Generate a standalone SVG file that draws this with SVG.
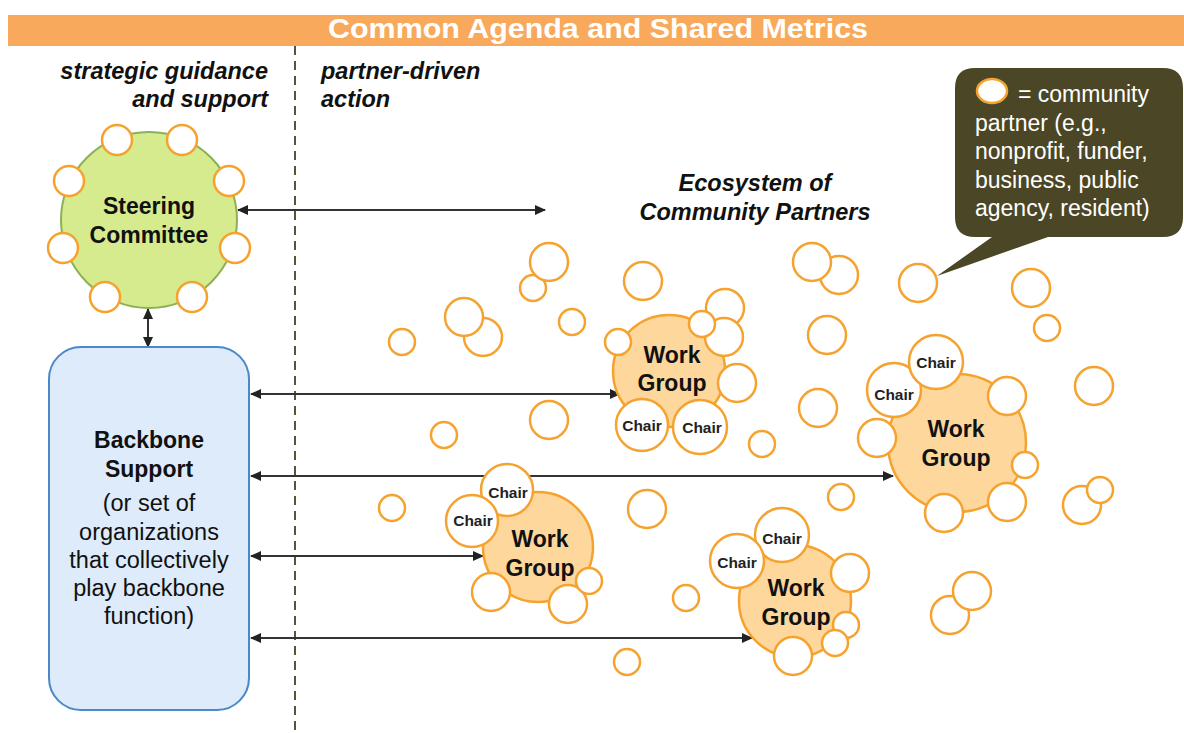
<svg xmlns="http://www.w3.org/2000/svg" width="1184" height="733" viewBox="0 0 1184 733">
<defs>
<marker id="ah" markerUnits="userSpaceOnUse" markerWidth="11" markerHeight="10" refX="10" refY="5" orient="auto-start-reverse">
<path d="M0,0 L11,5 L0,10 z" fill="#222"/>
</marker>
<style>
.p{fill:#fff;stroke:#F5A22F;stroke-width:2.5}
.wg{fill:#FDD79B;stroke:#F5A22F;stroke-width:2.5}
.t{font-family:"Liberation Sans",Arial,sans-serif;fill:#111}
.b{font-weight:bold}
.i{font-style:italic;font-weight:bold}
.ch{font-family:"Liberation Sans",Arial,sans-serif;font-weight:bold;font-size:15.5px;fill:#222;text-anchor:middle}
.wt{font-family:"Liberation Sans",Arial,sans-serif;font-weight:bold;font-size:23px;fill:#111;text-anchor:middle}
.c{stroke:#333;stroke-width:2;fill:none;marker-start:url(#ah);marker-end:url(#ah)}
.lg{font-family:"Liberation Sans",Arial,sans-serif;font-size:23px;fill:#fff}
</style>
</defs>
<rect width="1184" height="733" fill="#fff"/>

<g id="header">
<rect x="8" y="15" width="1176" height="31" fill="#F8A95B"/>
<text x="598" y="38" class="t b" font-size="28" style="fill:#fff" text-anchor="middle" textLength="540" lengthAdjust="spacingAndGlyphs">Common Agenda and Shared Metrics</text>
</g>

<g id="divider">
<line x1="295" y1="46" x2="295" y2="733" stroke="#55553A" stroke-width="2" stroke-dasharray="9 6"/>
</g>

<g id="column-labels">
<text x="268" y="79" class="t i" font-size="23.5" text-anchor="end">strategic guidance</text>
<text x="268" y="107" class="t i" font-size="23.5" text-anchor="end">and support</text>
<text x="321" y="79" class="t i" font-size="23.5">partner-driven</text>
<text x="321" y="107" class="t i" font-size="23.5">action</text>
<text x="755" y="191" class="t i" font-size="23.5" text-anchor="middle">Ecosystem of</text>
<text x="755" y="220" class="t i" font-size="23.5" text-anchor="middle">Community Partners</text>
</g>

<g id="connectors">
<line class="c" x1="238" y1="210" x2="545" y2="210"/>
<line class="c" x1="148" y1="309" x2="148" y2="347"/>
<line class="c" x1="251" y1="394" x2="620" y2="394"/>
<line class="c" x1="251" y1="476" x2="893" y2="476"/>
<line class="c" x1="251" y1="556" x2="483" y2="556"/>
<line class="c" x1="251" y1="638" x2="752" y2="638"/>
</g>

<g id="steering-committee">
<circle cx="149" cy="220" r="88" fill="#D6EB8E" stroke="#8DAF55" stroke-width="2"/>
<circle class="p" cx="117" cy="140" r="15"/>
<circle class="p" cx="182" cy="140" r="15"/>
<circle class="p" cx="69" cy="181" r="15"/>
<circle class="p" cx="229" cy="181" r="15"/>
<circle class="p" cx="63" cy="248" r="15"/>
<circle class="p" cx="235" cy="248" r="15"/>
<circle class="p" cx="105" cy="297" r="15"/>
<circle class="p" cx="192" cy="297" r="15"/>
<text x="149" y="214" class="wt">Steering</text>
<text x="149" y="243" class="wt">Committee</text>
</g>

<g id="backbone-support">
<rect x="49" y="347" width="200" height="363" rx="32" fill="#DDEBFB" stroke="#4A88C8" stroke-width="2"/>
<text x="149" y="448" class="wt">Backbone</text>
<text x="149" y="477" class="wt">Support</text>
<g class="t" font-size="23.5" text-anchor="middle">
<text x="149" y="511">(or set of</text>
<text x="149" y="540">organizations</text>
<text x="149" y="568">that collectively</text>
<text x="149" y="596">play backbone</text>
<text x="149" y="624">function)</text>
</g>
</g>

<g id="community-partners">
<circle class="p" cx="533" cy="288" r="13"/>
<circle class="p" cx="549" cy="262" r="19"/>
<circle class="p" cx="483" cy="337" r="19"/>
<circle class="p" cx="464" cy="317" r="19"/>
<circle class="p" cx="402" cy="342" r="13"/>
<circle class="p" cx="572" cy="322" r="13"/>
<circle class="p" cx="643" cy="281" r="19"/>
<circle class="p" cx="549" cy="420" r="19"/>
<circle class="p" cx="444" cy="435" r="13"/>
<circle class="p" cx="762" cy="444" r="13"/>
<circle class="p" cx="839" cy="275" r="19"/>
<circle class="p" cx="812" cy="262" r="19"/>
<circle class="p" cx="918" cy="283" r="19"/>
<circle class="p" cx="827" cy="335" r="19"/>
<circle class="p" cx="1031" cy="288" r="19"/>
<circle class="p" cx="1047" cy="328" r="13"/>
<circle class="p" cx="1094" cy="386" r="19"/>
<circle class="p" cx="818" cy="408" r="19"/>
<circle class="p" cx="841" cy="497" r="13"/>
<circle class="p" cx="1082" cy="505" r="19"/>
<circle class="p" cx="1100" cy="490" r="13"/>
<circle class="p" cx="647" cy="509" r="19"/>
<circle class="p" cx="686" cy="598" r="13"/>
<circle class="p" cx="392" cy="508" r="13"/>
<circle class="p" cx="627" cy="662" r="13"/>
<circle class="p" cx="950" cy="615" r="19"/>
<circle class="p" cx="972" cy="591" r="19"/>
</g>

<g id="work-group-1">
<circle class="wg" cx="669" cy="371" r="56"/>
<circle class="p" cx="725" cy="308" r="19"/>
<circle class="p" cx="618" cy="342" r="13"/>
<circle class="p" cx="724" cy="337" r="19"/>
<circle class="p" cx="702" cy="324" r="13"/>
<circle class="p" cx="737" cy="383" r="19"/>
<circle class="p" cx="642" cy="425" r="26"/>
<circle class="p" cx="700" cy="427" r="27"/>
<text x="672" y="363" class="wt">Work</text>
<text x="672" y="391" class="wt">Group</text>
<text x="642" y="431" class="ch">Chair</text>
<text x="702" y="433" class="ch">Chair</text>
</g>

<g id="work-group-2">
<circle class="wg" cx="957" cy="443" r="69"/>
<circle class="p" cx="1007" cy="396" r="19"/>
<circle class="p" cx="877" cy="438" r="19"/>
<circle class="p" cx="1025" cy="465" r="13"/>
<circle class="p" cx="1007" cy="502" r="19"/>
<circle class="p" cx="944" cy="513" r="19"/>
<circle class="p" cx="894" cy="390" r="27"/>
<circle class="p" cx="936" cy="362" r="27"/>
<text x="956" y="437" class="wt">Work</text>
<text x="956" y="466" class="wt">Group</text>
<text x="894" y="400" class="ch">Chair</text>
<text x="936" y="368" class="ch">Chair</text>
</g>

<g id="work-group-3">
<circle class="wg" cx="538" cy="547" r="55"/>
<circle class="p" cx="491" cy="592" r="19"/>
<circle class="p" cx="568" cy="604" r="19"/>
<circle class="p" cx="589" cy="581" r="13"/>
<circle class="p" cx="507" cy="490" r="26"/>
<circle class="p" cx="472" cy="521" r="26"/>
<text x="540" y="547" class="wt">Work</text>
<text x="540" y="576" class="wt">Group</text>
<text x="508" y="498" class="ch">Chair</text>
<text x="473" y="526" class="ch">Chair</text>
</g>

<g id="work-group-4">
<circle class="wg" cx="795" cy="601" r="56"/>
<circle class="p" cx="850" cy="573" r="19"/>
<circle class="p" cx="846" cy="625" r="13"/>
<circle class="p" cx="835" cy="643" r="13"/>
<circle class="p" cx="793" cy="656" r="19"/>
<circle class="p" cx="782" cy="535" r="27"/>
<circle class="p" cx="737" cy="561" r="27"/>
<text x="796" y="596" class="wt">Work</text>
<text x="796" y="625" class="wt">Group</text>
<text x="782" y="544" class="ch">Chair</text>
<text x="737" y="568" class="ch">Chair</text>
</g>

<g id="legend-callout">
<path d="M975,68 H1163 Q1183,68 1183,88 V217 Q1183,237 1163,237 H1048 L937,276 L992,237 H975 Q955,237 955,217 V88 Q955,68 975,68 Z" fill="#4B4726"/>
<ellipse cx="992" cy="91" rx="15" ry="12" fill="#fff" stroke="#F5A22F" stroke-width="2.5"/>
<text x="1018" y="102" class="lg">= community</text>
<text x="975" y="131" class="lg">partner (e.g.,</text>
<text x="975" y="159" class="lg">nonprofit, funder,</text>
<text x="975" y="188" class="lg">business, public</text>
<text x="975" y="216" class="lg">agency, resident)</text>
</g>
</svg>
